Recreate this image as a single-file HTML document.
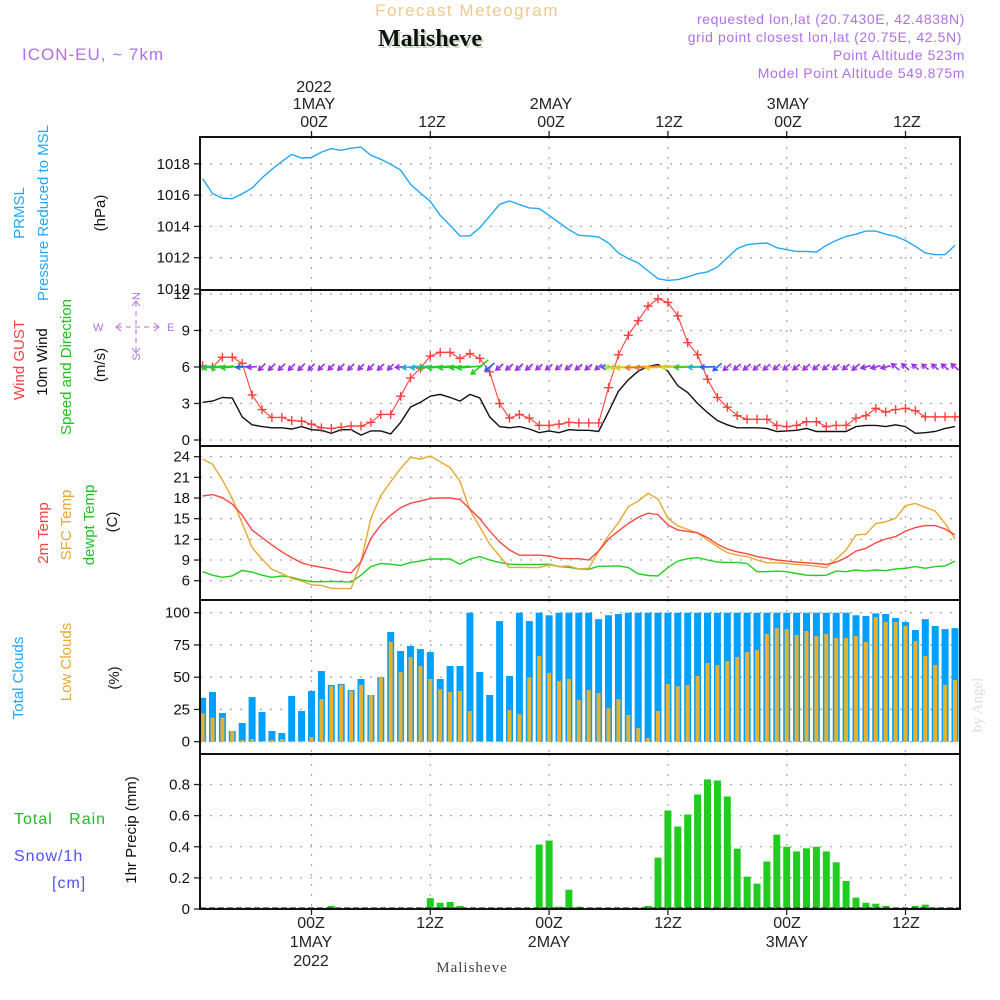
<!DOCTYPE html>
<html><head><meta charset="utf-8"><title>Forecast Meteogram - Malisheve</title>
<style>
html,body{margin:0;padding:0;background:#fff;}
svg{display:block;font-family:"Liberation Sans",sans-serif;}
</style></head>
<body>
<svg id="chart" width="1000" height="1000" viewBox="0 0 1000 1000" xmlns="http://www.w3.org/2000/svg">
<rect x="0" y="0" width="1000" height="1000" fill="#fff"/>
<defs>
<clipPath id="cp1"><rect x="200" y="137" width="760" height="153"/></clipPath>
<clipPath id="cp2"><rect x="200" y="290" width="760" height="156"/></clipPath>
<clipPath id="cp3"><rect x="200" y="446" width="760" height="154"/></clipPath>
<clipPath id="cp4"><rect x="200" y="600" width="760" height="154"/></clipPath>
<clipPath id="cp5"><rect x="200" y="754" width="760" height="155"/></clipPath>
</defs>
<text x="467" y="16" text-anchor="middle" font-size="17" fill="#f0c98a" letter-spacing="1.5">Forecast Meteogram</text>
<text x="432" y="48" text-anchor="middle" font-size="24" font-weight="bold" font-family="Liberation Serif,serif" fill="#c8d8c0">Malisheve</text>
<text x="430" y="46" text-anchor="middle" font-size="24" font-weight="bold" font-family="Liberation Serif,serif" fill="#111">Malisheve</text>
<text x="22" y="60" font-size="17" fill="#b070e8" letter-spacing="1">ICON-EU, ~ 7km</text>
<g font-size="14" fill="#b070e8" text-anchor="end" letter-spacing="0.6">
<text x="965" y="24">requested lon,lat (20.7430E, 42.4838N)</text>
<text x="962" y="42">grid point closest lon,lat (20.75E, 42.5N)</text>
<text x="965" y="60">Point Altitude 523m</text>
<text x="965" y="78">Model Point Altitude 549.875m</text>
</g>
<g font-size="16" fill="#222" text-anchor="middle">
<text x="314" y="92">2022</text><text x="314" y="109">1MAY</text><text x="314" y="127">00Z</text>
<text x="432" y="127">12Z</text>
<text x="551" y="109">2MAY</text><text x="551" y="127">00Z</text>
<text x="669" y="127">12Z</text>
<text x="788" y="109">3MAY</text><text x="788" y="127">00Z</text>
<text x="907" y="127">12Z</text>
</g>
<g font-size="16" fill="#222" text-anchor="middle">
<text x="311" y="928">00Z</text><text x="311" y="947">1MAY</text><text x="311" y="966">2022</text>
<text x="430" y="928">12Z</text>
<text x="549" y="928">00Z</text><text x="549" y="947">2MAY</text>
<text x="668" y="928">12Z</text>
<text x="787" y="928">00Z</text><text x="787" y="947">3MAY</text>
<text x="906" y="928">12Z</text>
</g>
<text x="472" y="972" text-anchor="middle" font-size="15" font-family="Liberation Serif,serif" fill="#444" letter-spacing="1">Malisheve</text>
<text transform="translate(982,705) rotate(-90)" text-anchor="middle" font-size="15" font-family="Liberation Serif,serif" fill="#ddd">by Angel</text>

<g font-size="15" text-anchor="middle">
<text transform="translate(24,213) rotate(-90)" fill="#1ea8ff">PRMSL</text>
<text transform="translate(48,213) rotate(-90)" fill="#1ea8ff">Pressure Reduced to MSL</text>
<text transform="translate(105,213) rotate(-90)" fill="#111">(hPa)</text>
<text transform="translate(24,360) rotate(-90)" fill="#ff4040">Wind GUST</text>
<text transform="translate(47,362) rotate(-90)" fill="#111">10m Wind</text>
<text transform="translate(71,367) rotate(-90)" fill="#20c020">Speed and Direction</text>
<text transform="translate(105,365) rotate(-90)" fill="#111">(m/s)</text>
<text transform="translate(48,533) rotate(-90)" fill="#ff4040">2m Temp</text>
<text transform="translate(71,525) rotate(-90)" fill="#e8a830">SFC Temp</text>
<text transform="translate(94,525) rotate(-90)" fill="#20c020">dewpt Temp</text>
<text transform="translate(117,522) rotate(-90)" fill="#111">(C)</text>
<text transform="translate(23,678) rotate(-90)" fill="#1ea8ff">Total Clouds</text>
<text transform="translate(71,662) rotate(-90)" fill="#e8a830">Low Clouds</text>
<text transform="translate(119,678) rotate(-90)" fill="#111">(%)</text>
<text transform="translate(136,830) rotate(-90)" fill="#111">1hr Precip (mm)</text>
</g>
<text x="14" y="824" font-size="16" fill="#20c020" letter-spacing="1">Total&#160;&#160;&#160;Rain</text>
<text x="14" y="861" font-size="16" fill="#5050ff" letter-spacing="1">Snow/1h</text>
<text x="52" y="888" font-size="16" fill="#5050ff" letter-spacing="1">[cm]</text>
<g fill="none" stroke="#b070e8" font-size="11">
<text x="93" y="331" fill="#b070e8" stroke="none">W</text>
<text x="167" y="331" fill="#b070e8" stroke="none">E</text>
<text transform="translate(140,296) rotate(-90)" fill="#b070e8" stroke="none" text-anchor="middle">N</text>
<text transform="translate(140,357) rotate(-90)" fill="#b070e8" stroke="none" text-anchor="middle">S</text>
<line x1="117" y1="327" x2="158" y2="327" stroke-dasharray="5,4"/>
<line x1="136" y1="302" x2="136" y2="352" stroke-dasharray="5,4"/>
<path d="M121,323 L116,327 L121,331 M154,323 L159,327 L154,331 M132,306 L136,301 L140,306 M132,348 L136,353 L140,348"/>
</g>
<g id="layer"></g>
</svg>
<script>
// ---------- data (hourly, hours -11 .. 65 relative to 2022-05-01 00Z) ----------
const startHour = -11;
const tickHours = [0, 12, 24, 36, 48, 60];
const pressureTicks = [1010, 1012, 1014, 1016, 1018];
const windTicks = [0, 3, 6, 9, 12];
const tempTicks = [6, 9, 12, 15, 18, 21, 24];
const cloudTicks = [0, 25, 50, 75, 100];
const precipTicks = [0, 0.2, 0.4, 0.6, 0.8];
const precipTickLabels = ["0", "0.2", "0.4", "0.6", "0.8"];

const pressure = [1017.05,1016.1,1015.8,1015.77,1016.09,1016.45,1017.1,1017.65,1018.15,1018.6,1018.37,1018.4,1018.75,1018.97,1018.86,1019.0,1019.07,1018.54,1018.29,1017.97,1017.59,1016.69,1016.13,1015.6,1014.7,1014.07,1013.39,1013.39,1013.92,1014.65,1015.41,1015.62,1015.39,1015.18,1015.14,1014.7,1014.24,1013.79,1013.43,
1013.39,1013.32,1012.94,1012.3,1011.94,1011.66,1011.15,1010.66,1010.55,1010.6,1010.77,1010.98,1011.09,1011.4,1012.0,1012.58,1012.83,1012.9,1012.94,1012.64,1012.51,1012.4,1012.4,1012.36,1012.79,1013.1,1013.36,1013.5,1013.7,1013.7,1013.5,1013.36,1013.1,1012.73,1012.3,1012.19,1012.2,1012.79];
const windGust = [6.1,6.0,6.8,6.8,6.3,3.7,2.5,1.85,1.85,1.6,1.55,1.3,1.0,0.95,1.05,1.15,1.15,1.45,2.1,2.1,3.6,5.1,5.9,6.9,7.2,7.2,6.7,7.1,6.7,5.6,3.0,1.8,2.1,1.8,1.2,1.2,1.3,1.45,1.4,1.4,
1.4,4.3,7.0,8.6,9.8,11.0,11.6,11.3,10.2,8.0,7.0,5.0,3.5,2.7,2.0,1.7,1.7,1.7,1.2,1.1,1.2,1.5,1.5,1.1,1.2,1.2,1.8,2.0,2.6,2.3,2.5,2.6,2.4,1.9,1.9,1.9,1.9];
const windSpeed = [3.1,3.2,3.5,3.45,1.9,1.25,1.1,1.0,1.0,0.9,1.1,0.85,0.8,0.55,0.85,0.85,0.4,0.75,0.75,0.5,1.45,2.7,3.1,3.6,3.75,3.5,3.2,3.75,3.45,1.9,1.1,1.0,1.1,0.9,0.6,0.75,0.6,0.85,0.8,0.8,
0.7,2.3,4.0,4.95,5.65,6.05,6.2,5.65,4.45,3.9,3.0,2.25,1.6,1.25,1.0,1.0,1.0,0.95,0.7,0.75,0.8,0.95,0.7,0.7,0.7,0.7,1.1,1.2,1.2,1.1,1.25,1.1,0.55,0.6,0.7,0.95,1.1];
const windDir = [85,85,85,85,85,85,45,45,45,45,45,45,45,45,45,45,45,45,45,45,85,85,85,85,85,85,85,85,50,50,50,50,50,50,50,50,50,50,50,50,50,
88,88,88,88,88,88,88,88,88,88,88,50,50,50,50,50,50,50,50,50,50,50,50,50,50,50,75,75,75,130,130,130,130,130,130,130];
const temp2m = [18.3,18.5,18.05,17.1,15.5,13.35,12.25,11.2,10.2,9.35,8.6,8.2,7.95,7.7,7.3,7.15,8.75,12.15,14.1,15.5,16.6,17.25,17.55,17.95,18.0,18.0,17.8,16.4,15.0,13.2,11.65,10.45,9.7,9.7,9.7,9.6,9.25,9.2,9.2,
9.0,10.3,12.05,13.2,14.3,15.2,15.8,15.6,14.1,13.35,13.15,12.95,12.25,11.3,10.6,10.2,9.9,9.5,9.25,9.0,8.85,8.7,8.6,8.5,8.35,8.7,9.35,10.3,10.7,11.5,12.05,12.4,13.2,13.7,14.0,14.0,13.5,12.65];
const tempSfc = [23.65,22.9,20.6,17.95,14.3,10.8,9.15,7.65,7.05,6.35,5.95,5.4,5.3,4.9,4.85,4.85,8.75,15.05,18.35,20.35,22.3,23.9,23.65,24.1,23.25,22.4,20.45,16.25,13.8,11.3,9.6,7.9,7.95,7.9,7.9,8.3,8.05,8.15,7.7,
7.8,10.3,12.55,14.4,16.75,17.55,18.7,17.85,15.05,13.95,13.45,12.9,11.9,10.95,10.1,9.7,9.5,9.0,8.6,8.6,8.5,8.35,8.25,8.1,7.9,9.15,10.45,12.65,12.75,14.3,14.55,15.05,16.9,17.2,16.65,16.1,14.3,12.05];
const dewpt = [7.3,6.8,6.5,6.7,7.5,7.25,6.8,6.5,6.7,6.5,6.1,5.85,5.85,5.9,5.85,5.8,6.8,8.05,8.5,8.4,8.2,8.65,8.85,9.15,9.15,9.15,8.4,9.15,9.5,9.0,8.65,8.4,8.35,8.35,8.35,8.4,8.05,7.95,7.7,
7.65,8.1,8.1,8.15,7.9,7.0,6.75,6.7,7.9,8.85,9.2,9.35,9.0,8.7,8.65,8.65,8.5,7.3,7.3,7.4,7.3,7.05,6.8,6.75,6.8,7.4,7.3,7.55,7.4,7.55,7.45,7.7,7.8,8.05,7.8,8.05,8.15,8.85];
const totalClouds = [34,38.5,22.2,8.3,14.5,34.6,23,8.3,6.7,35.4,23.8,
39.3,54.8,44,44.7,40,48.6,36.2,50,85,70.3,74.2,71.8,69.5,48.6,58.7,58.7,100,54,36.2,93.5,51,100,93.5,100,98,100,100,100,
100,95,98,99,100,100,100,100,100,100,100,100,100,100,100,100,100,100,100,100,100,100,100,100,100,100,100,98,97.4,99.5,99,95.9,92.8,86.6,95,89.7,87.3,88];
const lowClouds = [22,18.6,18.6,8.3,1.3,2,0.5,1.3,2,0.5,0.5,
3.6,33,43,44,39.3,44,36.2,50,77.3,54,65.6,58.7,48.6,40.8,38.5,39.3,23.8,0.5,0.5,0.5,24.5,21.4,50,66.4,53.2,47,48.6,32.3,
40,37.7,26,33,20.7,10.6,2.8,23.8,44.7,43,44,51,61,59.4,62.5,65.6,69.5,71,83.5,88,87.3,82.7,85.8,82,83.5,80.4,80.4,82,77.3,96.6,92.8,92.8,89.7,78,66.4,59.4,44,47.8];
const precip = [0,0,0,0,0,0,0,0,0,0,0,
0,0,0.02,0,0,0,0,0,0,0,0,
0.01,0.07,0.04,0.045,0.02,0,0,0,0,0,0,0,
0.414,0.44,0.015,0.124,0.015,0,0.008,0,0,0,0,0.02,
0.33,0.633,0.53,0.607,0.736,0.833,0.826,0.723,0.388,0.208,0.163,0.305,0.478,0.40,0.37,0.39,0.40,0.37,0.3,0.18,0.073,0.04,0.034,0.02,
0,0,0.02,0.028,0.008,0,0];

// ---------- axes ----------
const X0 = 200, X1 = 960;
function xs(h){ return 311.5 + 9.9*h; }
function yPres(p){ return 289 - (p-1010)*15.65; }
function yWind(v){ return 440 - v*12.17; }
function yTemp(t){ return 580.7 - (t-6)*6.89; }
function yCloud(c){ return 741.7 - c*1.29; }
function yPrecip(v){ return 909 - v*155.6; }
const panels = [
  {top:137,bot:290,ticks:pressureTicks,fn:yPres,labels:pressureTicks.map(String),name:'pressure'},
  {top:290,bot:446,ticks:windTicks,fn:yWind,labels:windTicks.map(String),name:'wind'},
  {top:446,bot:600,ticks:tempTicks,fn:yTemp,labels:tempTicks.map(String),name:'temp'},
  {top:600,bot:754,ticks:cloudTicks,fn:yCloud,labels:cloudTicks.map(String),name:'clouds'},
  {top:754,bot:909,ticks:precipTicks,fn:yPrecip,labels:precipTickLabels,name:'precip'}
];
const NS = 'http://www.w3.org/2000/svg';
const layer = document.getElementById('layer');
function mk(tag, attrs, parent){
  const e = document.createElementNS(NS, tag);
  for (const k in attrs) e.setAttribute(k, attrs[k]);
  (parent||layer).appendChild(e);
  return e;
}
panels.forEach(function(p, i){
  const g = mk('g', {});
  
  
  p.ticks.forEach(function(t, j){
    const y = p.fn(t);
    if (y > p.top + 2 && y < p.bot - 1) {
      const gl = mk('line', {x1:X0, x2:X1, y1:y, y2:y, stroke:'#aaa', 'stroke-width':1.3, 'stroke-dasharray':'2,8'}, g);
      
      
    }
    mk('line', {x1:X0-6, x2:X0, y1:y, y2:y, stroke:'#222', 'stroke-width':1.3}, g);
    const tl = mk('text', {x:X0-10, y:y+5, 'text-anchor':'end', 'font-size':15, fill:'#111'}, g);
    tl.textContent = p.labels[j];
    
    
  });
  tickHours.forEach(function(h){
    const x = xs(h);
    const vl = mk('line', {x1:x, x2:x, y1:p.top, y2:p.bot, stroke:'#aaa', 'stroke-width':1.3, 'stroke-dasharray':'2,8'}, g);
    
    
  });
});
tickHours.forEach(function(h){
  mk('line', {x1:xs(h), x2:xs(h), y1:131, y2:137, stroke:'#222', 'stroke-width':1.3});
  mk('line', {x1:xs(h), x2:xs(h), y1:909, y2:915, stroke:'#222', 'stroke-width':1.3});
});

function seriesPath(arr, fn){
  return arr.map(function(v, i){ return (i?'L':'M') + xs(startHour+i).toFixed(1) + ',' + fn(v).toFixed(1); }).join('');
}
const pp = mk('path', {d:seriesPath(pressure, yPres), fill:'none', stroke:'#1ea8ff', 'stroke-width':1.4, 'clip-path':'url(#cp1)'});



const wg = mk('g', {'clip-path':'url(#cp2)'});


const ws = mk('path', {d:seriesPath(windSpeed, yWind), fill:'none', stroke:'#111', 'stroke-width':1.4}, wg);


const gl = mk('path', {d:seriesPath(windGust, yWind), fill:'none', stroke:'#ff4040', 'stroke-width':1.1}, wg);


windGust.forEach(function(v, i){
  const x = xs(startHour+i), y = yWind(v);
  const m = mk('path', {d:'M'+(x-4.5)+','+y+'h9M'+x+','+(y-4.5)+'v9', stroke:'#ff4040', 'stroke-width':1.4}, wg);
  
  
});
function windColor(v){
  if (v < 1.5) return '#9a30e8';
  if (v < 2.5) return '#3060ff';
  if (v < 3.2) return '#20b0e0';
  if (v < 4.0) return '#20d020';
  if (v < 5.0) return '#c0e020';
  if (v < 5.8) return '#f0c020';
  return '#f07030';
}
windSpeed.forEach(function(v, i){
  const x = xs(startHour+i), y = yWind(6);
  const L = Math.min(45, 8 + 1.2*v*v);
  const to = (windDir[i] + 180) * Math.PI/180;
  const dx = Math.sin(to), dy = -Math.cos(to);
  const x1 = x - dx*L/2, y1 = y - dy*L/2, x2 = x + dx*L/2, y2 = y + dy*L/2;
  const a = Math.atan2(dy, dx), hl = 5;
  const hx1 = x2 - hl*Math.cos(a-0.55), hy1 = y2 - hl*Math.sin(a-0.55);
  const hx2 = x2 - hl*Math.cos(a+0.55), hy2 = y2 - hl*Math.sin(a+0.55);
  const ar = mk('path', {d:'M'+x1.toFixed(1)+','+y1.toFixed(1)+'L'+x2.toFixed(1)+','+y2.toFixed(1)+'M'+hx1.toFixed(1)+','+hy1.toFixed(1)+'L'+x2.toFixed(1)+','+y2.toFixed(1)+'L'+hx2.toFixed(1)+','+hy2.toFixed(1), fill:'none', stroke:windColor(v), 'stroke-width':1.6}, wg);
  
  
});

const tg = mk('g', {'clip-path':'url(#cp3)'});


const l1 = mk('path', {d:seriesPath(dewpt, yTemp), fill:'none', stroke:'#20d020', 'stroke-width':1.4}, tg);


const l2 = mk('path', {d:seriesPath(tempSfc, yTemp), fill:'none', stroke:'#e8a830', 'stroke-width':1.4}, tg);


const l3 = mk('path', {d:seriesPath(temp2m, yTemp), fill:'none', stroke:'#ff4545', 'stroke-width':1.4}, tg);



const cg = mk('g', {'clip-path':'url(#cp4)'});


totalClouds.forEach(function(v, i){
  const x = xs(startHour+i), y0 = yCloud(0), y = yCloud(v);
  const b = mk('rect', {x:x-3.5, y:y, width:7, height:y0-y, fill:'#00a0ff'}, cg);
  
  
  const yl = yCloud(lowClouds[i]);
  const b2 = mk('rect', {x:x-2, y:yl, width:4, height:y0-yl, fill:'#e8b030'}, cg);
  
  
});

const pg = mk('g', {'clip-path':'url(#cp5)'});


precip.forEach(function(v, i){
  if (v <= 0) return;
  const x = xs(startHour+i), y0 = yPrecip(0), y = yPrecip(v);
  const b = mk('rect', {x:x-3.5, y:y, width:7, height:y0-y, fill:'#20cc20'}, pg);
  
  
});
const zl = mk('line', {x1:X0, x2:X1, y1:908, y2:908, stroke:'#333', 'stroke-width':1.2, 'stroke-dasharray':'6,3'});



panels.forEach(function(p){
  const r = mk('rect', {x:X0, y:p.top, width:X1-X0, height:p.bot-p.top, fill:'none', stroke:'#111', 'stroke-width':2});
  
  
});
</script>
</body></html>
